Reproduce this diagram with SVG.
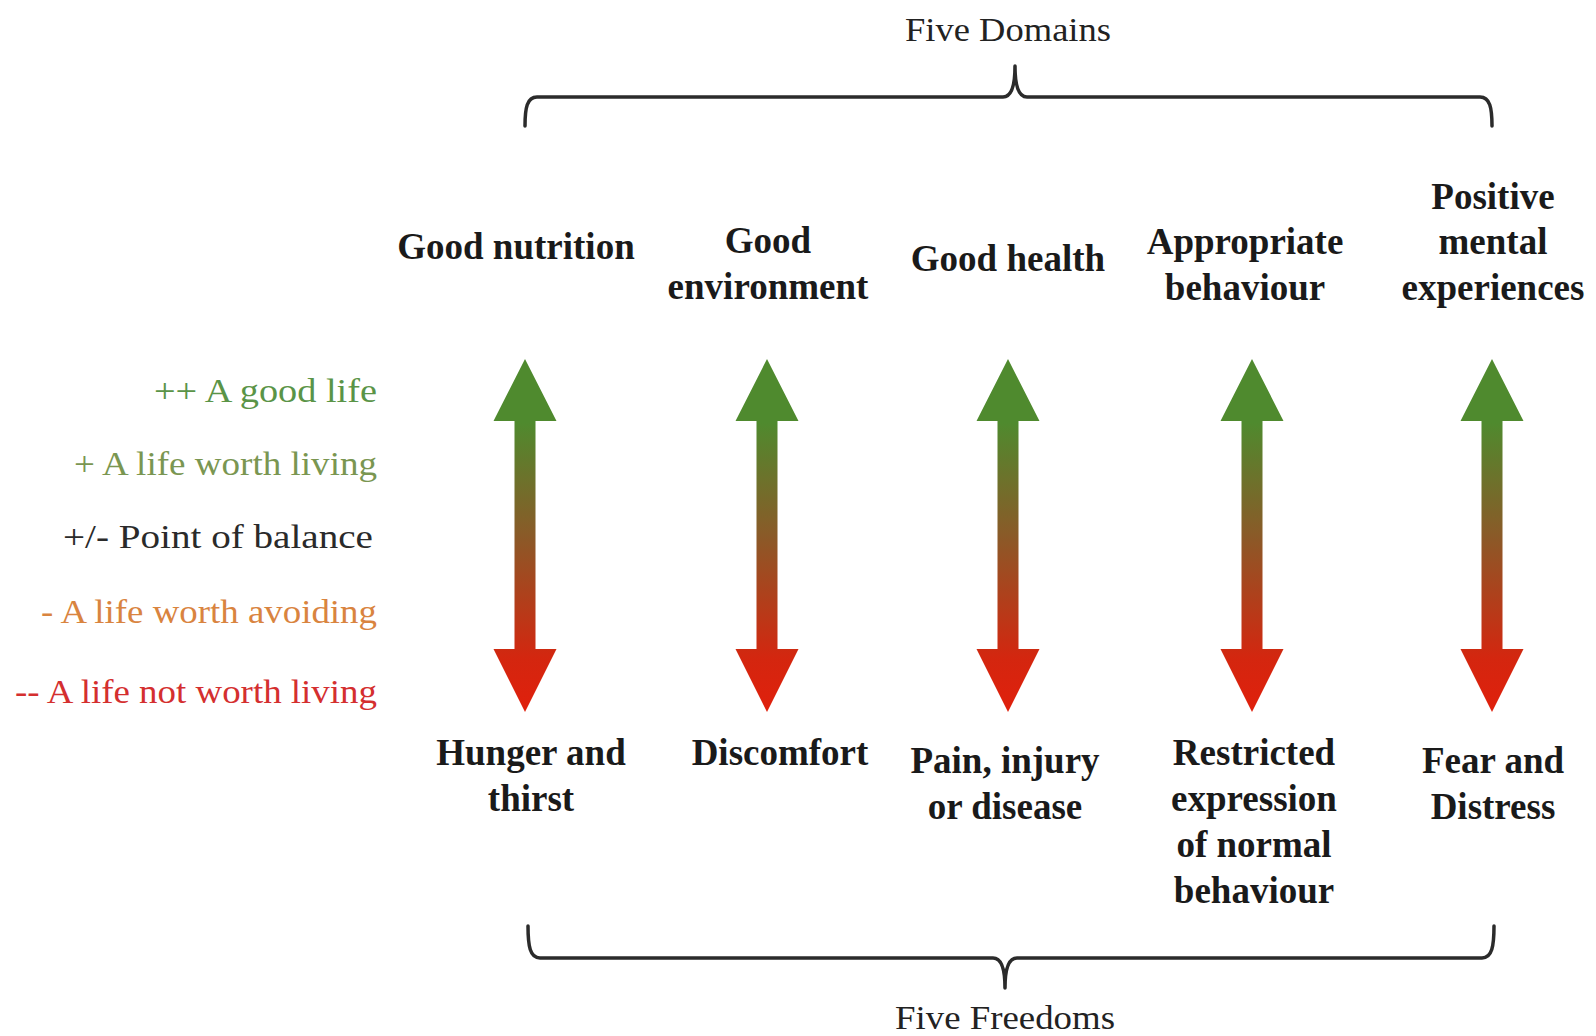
<svg xmlns="http://www.w3.org/2000/svg" width="1596" height="1036" viewBox="0 0 1596 1036">
<style>
.title{font-family:"Liberation Serif","Times New Roman",serif;font-size:34px;font-weight:normal;fill:#222;text-anchor:middle}
.head{font-family:"Liberation Serif","Times New Roman",serif;font-size:37px;font-weight:bold;fill:#1a1a1a;text-anchor:middle}
.scale{font-family:"Liberation Serif","Times New Roman",serif;font-size:34px;font-weight:normal;text-anchor:end}
.brace{fill:none;stroke:#2b2b2b;stroke-width:3.5;stroke-linecap:round;stroke-linejoin:round}
.arrow{fill:url(#grad)}
</style>
<defs>
<linearGradient id="grad" x1="0" y1="0" x2="0" y2="1">
<stop offset="0" stop-color="#4f8a2e"/>
<stop offset="0.18" stop-color="#4f8a2e"/>
<stop offset="0.5" stop-color="#8a5a28"/>
<stop offset="0.85" stop-color="#d4260f"/>
<stop offset="1" stop-color="#e0200c"/>
</linearGradient>
<path id="arr" d="M0,359 L31.5,421 L10.5,421 L10.5,649 L31.5,649 L0,712 L-31.5,649 L-10.5,649 L-10.5,421 L-31.5,421 Z"/>
</defs>
<rect width="1596" height="1036" fill="#ffffff"/>

<g id="five-domains">
<text class="title" x="1008" y="41" textLength="206" lengthAdjust="spacingAndGlyphs">Five Domains</text>
<path class="brace" d="M525,126 C525,108 527,97 537,97 L1003,97 C1011,97 1015,86 1015,66 C1015,86 1019,97 1027,97 L1480,97 C1490,97 1492,108 1492,126"/>
</g>

<g id="five-freedoms">
<path class="brace" d="M528,926 C528,946 530,958 540,958 L993,958 C1001,958 1005,968 1005,988 C1005,968 1009,958 1017,958 L1482,958 C1492,958 1494,946 1494,926"/>
<text class="title" x="1005" y="1029" textLength="220" lengthAdjust="spacingAndGlyphs">Five Freedoms</text>
</g>

<g id="scale-labels">
<text class="scale" x="377" y="402" fill="#5a9447" textLength="223" lengthAdjust="spacingAndGlyphs">++ A good life</text>
<text class="scale" x="377" y="475" fill="#7a9651" textLength="303" lengthAdjust="spacingAndGlyphs">+ A life worth living</text>
<text class="scale" x="373" y="548" fill="#2a2a2a" textLength="310" lengthAdjust="spacingAndGlyphs">+/- Point of balance</text>
<text class="scale" x="377" y="623" fill="#d9843f" textLength="336" lengthAdjust="spacingAndGlyphs">- A life worth avoiding</text>
<text class="scale" x="377" y="703" fill="#d42f2f" textLength="362" lengthAdjust="spacingAndGlyphs">-- A life not worth living</text>
</g>

<g id="col-nutrition">
<text class="head" x="516" y="259">Good nutrition</text>
<use href="#arr" x="525" class="arrow"/>
<text class="head" x="531" y="765">Hunger and</text>
<text class="head" x="531" y="811">thirst</text>
</g>

<g id="col-environment">
<text class="head" x="768" y="253">Good</text>
<text class="head" x="768" y="299">environment</text>
<use href="#arr" x="767" class="arrow"/>
<text class="head" x="780" y="765">Discomfort</text>
</g>

<g id="col-health">
<text class="head" x="1008" y="271">Good health</text>
<use href="#arr" x="1008" class="arrow"/>
<text class="head" x="1005" y="773">Pain, injury</text>
<text class="head" x="1005" y="819">or disease</text>
</g>

<g id="col-behaviour">
<text class="head" x="1245" y="254">Appropriate</text>
<text class="head" x="1245" y="300">behaviour</text>
<use href="#arr" x="1252" class="arrow"/>
<text class="head" x="1254" y="765">Restricted</text>
<text class="head" x="1254" y="811">expression</text>
<text class="head" x="1254" y="857">of normal</text>
<text class="head" x="1254" y="903">behaviour</text>
</g>

<g id="col-mental">
<text class="head" x="1493" y="209">Positive</text>
<text class="head" x="1493" y="254">mental</text>
<text class="head" x="1493" y="300">experiences</text>
<use href="#arr" x="1492" class="arrow"/>
<text class="head" x="1493" y="773">Fear and</text>
<text class="head" x="1493" y="819">Distress</text>
</g>
</svg>
